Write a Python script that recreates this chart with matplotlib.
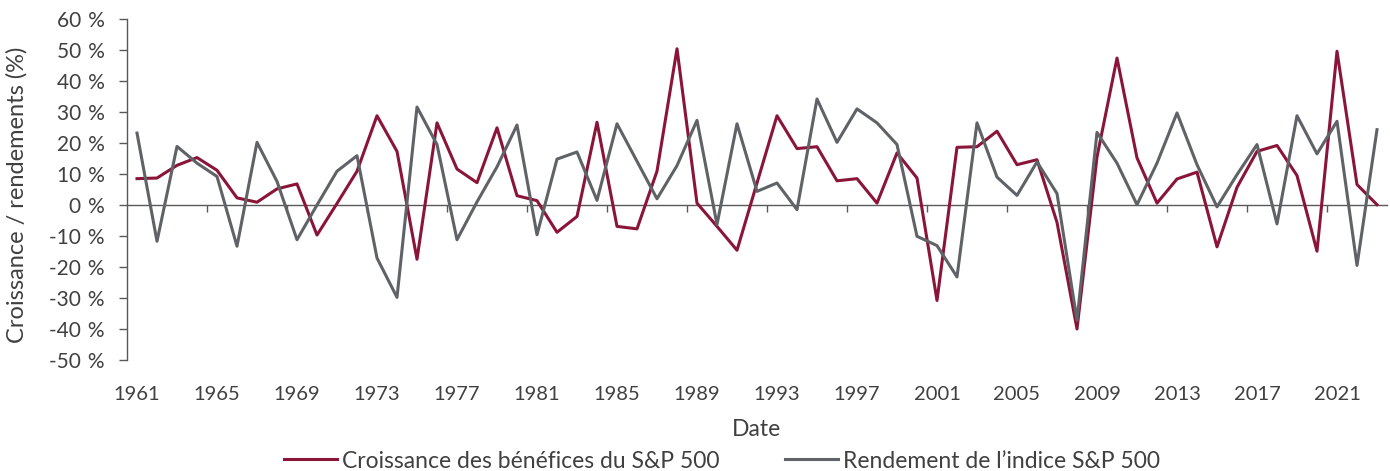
import numpy as np
import matplotlib
matplotlib.use("Agg")
import matplotlib.pyplot as plt

# Données
annees = list(range(1961, 2024))

croissance_benefices = [
    8.5, 8.7, 12.8, 15.3, 11.2, 2.3, 0.9, 5.2, 6.8, -9.7,
    0.5, 10.9, 28.8, 17.3, -17.5, 26.5, 11.6, 7.2, 24.9, 3.0,
    1.4, -8.8, -3.7, 26.7, -6.9, -7.7, 10.9, 50.4, 0.6, -6.9,
    -14.6, 7.1, 28.8, 18.2, 18.8, 7.8, 8.5, 0.6, 16.8, 8.7,
    -30.8, 18.6, 18.8, 23.8, 13.0, 14.6, -5.6, -40.0, 15.5, 47.4,
    15.2, 0.6, 8.4, 10.6, -13.5, 5.7, 17.3, 19.2, 9.5, -14.9,
    49.6, 6.6, 0.1,
]

rendement_indice = [
    23.2, -11.7, 18.9, 13.5, 9.2, -13.3, 20.2, 7.6, -11.2, 0.0,
    10.9, 15.9, -17.1, -29.8, 31.6, 19.5, -11.2, 1.0, 12.3, 25.8,
    -9.6, 14.8, 17.1, 1.5, 26.2, 14.1, 2.0, 12.7, 27.3, -6.3,
    26.2, 4.4, 7.1, -1.5, 34.2, 20.2, 31.0, 26.5, 19.5, -10.1,
    -13.1, -23.2, 26.5, 9.0, 3.1, 13.9, 3.7, -37.2, 23.4, 13.5,
    0.1, 13.5, 29.7, 13.0, -0.6, 9.8, 19.5, -6.1, 28.8, 16.5,
    27.0, -19.5, 24.3,
]

etiquettes_annees = list(range(1961, 2024, 4))
valeurs_y = list(range(-50, 70, 10))

rouge = "#8a1538"
gris = "#5f6266"
texte = "#404040"

plt.rcParams["font.family"] = ["Lato", "DejaVu Sans"]
plt.rcParams["font.size"] = 14

fig = plt.figure(figsize=(13.9, 4.71), dpi=100)
ax = fig.add_axes([127 / 1390, 1 - 360 / 471, 1260 / 1390, 341 / 471])

ax.plot(annees, croissance_benefices, color=rouge, lw=2.2,
        label="Croissance des bénéfices du S&P 500")
ax.plot(annees, rendement_indice, color=gris, lw=2.2,
        label="Rendement de l\u2019indice S&P 500")

ax.set_xlim(1960.5, 2023.5)
ax.set_ylim(-50, 60)

# axe Y
ax.set_yticks(valeurs_y)
ax.set_yticklabels([f"{v}\u2004%" for v in valeurs_y])
ax.tick_params(axis="y", direction="out", length=6, width=1, color="#595959",
               pad=10, labelcolor=texte, labelsize=15)

# étiquettes des années en bas, sans marques
ax.set_xticks(etiquettes_annees)
ax.tick_params(axis="x", length=0, pad=19, labelcolor=texte, labelsize=14.5)

for s in ["top", "right", "bottom"]:
    ax.spines[s].set_visible(False)
ax.spines["left"].set_color("#595959")
ax.spines["left"].set_linewidth(1)

# axe horizontal à 0 avec marques entre les catégories
sec = ax.secondary_xaxis(50 / 110)
sec.set_xticks(np.arange(1964.5, 2024, 4))
sec.tick_params(axis="x", direction="out", length=5, width=1, color="#595959",
                labelbottom=False, labeltop=False)
sec.spines["bottom"].set_color("#595959")
sec.spines["bottom"].set_linewidth(1)

ax.set_ylabel("Croissance / rendements (%)", color=texte, fontsize=17)
ax.yaxis.set_label_coords((28 - 127) / 1260, 0.485)
ax.set_xlabel("Date", color=texte, fontsize=16.5, labelpad=11)

fig.legend(loc="center", bbox_to_anchor=(722 / 1390, 1 - 461 / 471), ncol=2,
           frameon=False, fontsize=16.5, handlelength=2.3, handletextpad=0.2,
           columnspacing=2.9, labelcolor=texte)

fig.savefig("out.png", dpi=100)
